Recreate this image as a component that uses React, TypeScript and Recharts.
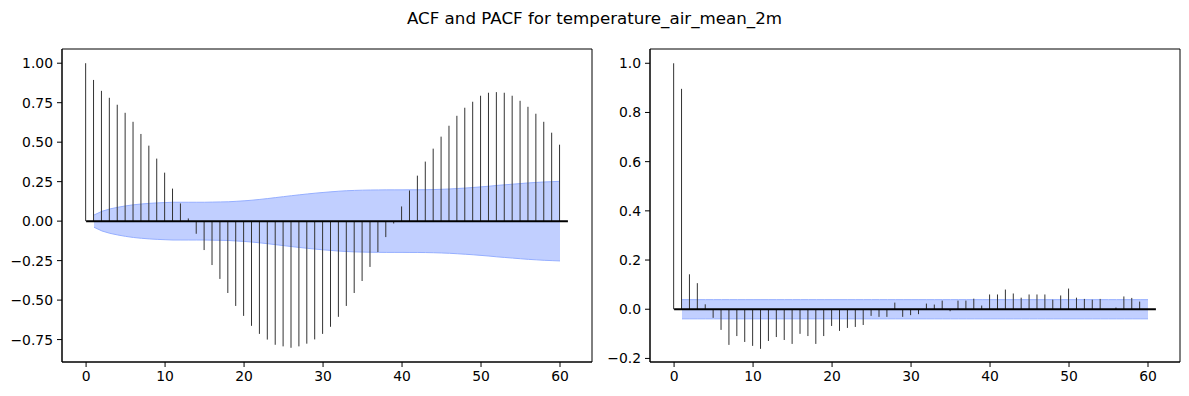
import React from "react";
import {
  ComposedChart,
  Bar,
  Area,
  XAxis,
  YAxis,
  ReferenceLine,
  ReferenceArea,
} from "recharts";

const TITLE = "ACF and PACF for temperature_air_mean_2m";

const LAGS = [
  0, 1, 2, 3, 4, 5, 6, 7, 8, 9, 10, 11, 12, 13, 14, 15, 16, 17, 18, 19, 20,
  21, 22, 23, 24, 25, 26, 27, 28, 29, 30, 31, 32, 33, 34, 35, 36, 37, 38, 39,
  40, 41, 42, 43, 44, 45, 46, 47, 48, 49, 50, 51, 52, 53, 54, 55, 56, 57, 58,
  59, 60,
];

const ACF_VALUES = [
  1.0, 0.894, 0.825, 0.781, 0.737, 0.686, 0.629, 0.552, 0.478, 0.396, 0.307,
  0.206, 0.112, 0.017, -0.08, -0.183, -0.278, -0.366, -0.455, -0.537, -0.6,
  -0.663, -0.714, -0.75, -0.783, -0.793, -0.802, -0.793, -0.776, -0.749,
  -0.714, -0.669, -0.606, -0.537, -0.455, -0.379, -0.29, -0.196, -0.101,
  -0.015, 0.093, 0.194, 0.288, 0.377, 0.459, 0.535, 0.604, 0.667, 0.718,
  0.756, 0.794, 0.813, 0.817, 0.813, 0.794, 0.762, 0.724, 0.68, 0.629, 0.56,
  0.484,
];

// half-width of the ACF confidence band (null at lag 0, not drawn)
const ACF_CONF = [
  null, 0.0385, 0.062, 0.077, 0.0875, 0.0965, 0.1035, 0.1085, 0.1125, 0.1155,
  0.1175, 0.1195, 0.1195, 0.1195, 0.1195, 0.1195, 0.1205, 0.1215, 0.1225,
  0.1255, 0.1285, 0.1325, 0.1375, 0.143, 0.149, 0.155, 0.161, 0.1665, 0.172,
  0.177, 0.1815, 0.1855, 0.1895, 0.1925, 0.1945, 0.196, 0.197, 0.1975, 0.198,
  0.198, 0.198, 0.1985, 0.1985, 0.199, 0.2, 0.2015, 0.2035, 0.2065, 0.2095,
  0.213, 0.217, 0.221, 0.226, 0.23, 0.234, 0.238, 0.242, 0.245, 0.248, 0.25,
  0.252,
];

const PACF_VALUES = [
  1.0, 0.896, 0.142, 0.106, 0.02, -0.035, -0.084, -0.145, -0.109, -0.133,
  -0.149, -0.161, -0.129, -0.113, -0.125, -0.141, -0.1, -0.109, -0.141,
  -0.109, -0.068, -0.088, -0.076, -0.072, -0.064, -0.027, -0.031, -0.031,
  0.027, -0.031, -0.024, -0.02, 0.023, 0.019, 0.035, -0.008, 0.035, 0.035,
  0.043, 0.015, 0.06, 0.06, 0.08, 0.064, 0.047, 0.06, 0.06, 0.06, 0.039,
  0.056, 0.084, 0.047, 0.042, 0.039, 0.042, 0.001, 0.007, 0.052, 0.046, 0.031,
  -0.001,
];

// half-width of the PACF confidence band (constant)
const PACF_CONF_HALF = 0.039;

const X_TICKS = [0, 10, 20, 30, 40, 50, 60];
const ACF_Y_TICKS = [-0.75, -0.5, -0.25, 0, 0.25, 0.5, 0.75, 1.0];
const PACF_Y_TICKS = [-0.2, 0, 0.2, 0.4, 0.6, 0.8, 1.0];

const X_DOMAIN: [number, number] = [-3.05, 64.05];
const ACF_Y_DOMAIN: [number, number] = [-0.892, 1.09];
const PACF_Y_DOMAIN: [number, number] = [-0.2145, 1.058];

const ZERO_LINE_END = 61;

const acfData = LAGS.map((lag, i) => ({
  lag,
  value: ACF_VALUES[i],
  band: ACF_CONF[i] == null ? null : [-(ACF_CONF[i] as number), ACF_CONF[i]],
}));

const pacfData = LAGS.map((lag, i) => ({
  lag,
  value: PACF_VALUES[i],
  band: i === 0 ? null : [-PACF_CONF_HALF, PACF_CONF_HALF],
}));

const FONT = "'DejaVu Sans', sans-serif";
const fmtMinus = (s: string) => s.replace("-", "\u2212");

const Stem = (props: any) => {
  const { x, y, width, height } = props;
  if (x == null || y == null || isNaN(x) || isNaN(y)) return null;
  const cx = x + width / 2;
  return (
    <line
      x1={cx}
      x2={cx}
      y1={y}
      y2={y + height}
      stroke="#333333"
      strokeWidth={1}
    />
  );
};

type PanelProps = {
  data: any[];
  yDomain: [number, number];
  yTicks: number[];
  decimals: number;
  width: number;
  yAxisWidth: number;
  rightMargin: number;
};

const Panel = ({
  data,
  yDomain,
  yTicks,
  decimals,
  width,
  yAxisWidth,
  rightMargin,
}: PanelProps) => (
  <ComposedChart
    width={width}
    height={396}
    data={data}
    margin={{ top: 49, right: rightMargin, bottom: 0, left: 0 }}
  >
    <XAxis
      dataKey="lag"
      type="number"
      domain={X_DOMAIN}
      ticks={X_TICKS}
      allowDataOverflow
      height={34}
      tickSize={5}
      tickMargin={4}
      stroke="#000"
      tick={{ fill: "#000", fontSize: 13.9, fontFamily: FONT }}
      tickLine={{ stroke: "#000" }}
      axisLine={{ stroke: "#000" }}
    />
    <YAxis
      type="number"
      domain={yDomain}
      ticks={yTicks}
      allowDataOverflow
      width={yAxisWidth}
      tickSize={5}
      tickMargin={4}
      interval={0}
      tickFormatter={(v: number) => fmtMinus(v.toFixed(decimals))}
      tick={{ fill: "#000", fontSize: 13.9, fontFamily: FONT }}
      tickLine={{ stroke: "#000" }}
      axisLine={{ stroke: "#000" }}
    />
    <ReferenceArea
      x1={X_DOMAIN[0]}
      x2={X_DOMAIN[1]}
      y1={yDomain[0]}
      y2={yDomain[1]}
      fill="none"
      fillOpacity={0}
      stroke="#000"
      strokeWidth={1}
      ifOverflow="extendDomain"
    />
    <Area
      dataKey="band"
      type="linear"
      fill="rgb(160,182,255)"
      fillOpacity={0.65}
      stroke="rgb(150,175,255)"
      strokeWidth={1}
      isAnimationActive={false}
      dot={false}
      activeDot={false}
    />
    <Bar
      dataKey="value"
      barSize={1}
      shape={Stem}
      isAnimationActive={false}
    />
    <ReferenceLine
      segment={[
        { x: 0, y: 0 },
        { x: ZERO_LINE_END, y: 0 },
      ]}
      stroke="#000"
      strokeWidth={2}
    />
  </ComposedChart>
);

export default function App() {
  return (
    <div
      style={{
        position: "fixed",
        left: 0,
        top: 0,
        width: 1189,
        height: 396,
        background: "#fff",
        fontFamily: FONT,
      }}
    >
      <div
        style={{
          position: "absolute",
          left: 0,
          top: 6,
          width: 1189,
          textAlign: "center",
          fontSize: 16.7,
          lineHeight: "24px",
          color: "#000",
          fontFamily: FONT,
        }}
      >
        {TITLE}
      </div>
      <div style={{ position: "absolute", left: 0, top: 0 }}>
        <Panel
          data={acfData}
          yDomain={ACF_Y_DOMAIN}
          yTicks={ACF_Y_TICKS}
          decimals={2}
          width={600}
          yAxisWidth={62}
          rightMargin={8}
        />
      </div>
      <div style={{ position: "absolute", left: 600, top: 0 }}>
        <Panel
          data={pacfData}
          yDomain={PACF_Y_DOMAIN}
          yTicks={PACF_Y_TICKS}
          decimals={1}
          width={589}
          yAxisWidth={50}
          rightMargin={9}
        />
      </div>
    </div>
  );
}
